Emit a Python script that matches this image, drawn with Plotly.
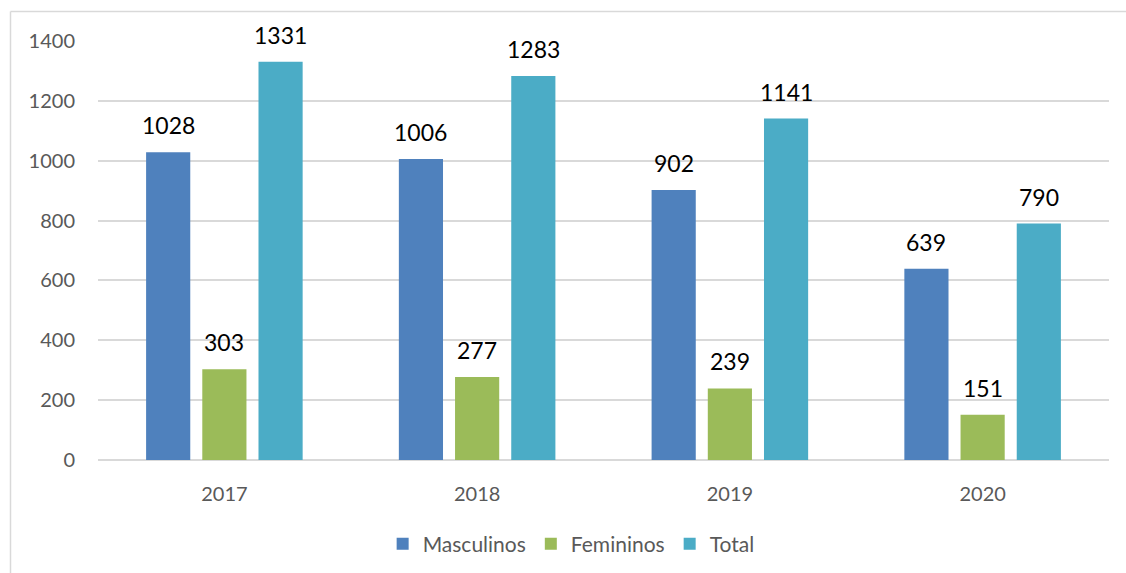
import plotly.graph_objects as go

years = ["2017", "2018", "2019", "2020"]
masculinos = [1028, 1006, 902, 639]
femininos = [303, 277, 239, 151]
total = [1331, 1283, 1141, 790]
y_ticks = [0, 200, 400, 600, 800, 1000, 1200, 1400]

series = [
    ("Masculinos", masculinos, "#4F81BD"),
    ("Femininos", femininos, "#9BBB59"),
    ("Total", total, "#4BACC6"),
]

FONT = "Lato, Carlito, Calibri, sans-serif"
bargap = 0.333
bargroupgap = 0.214

fig = go.Figure()
for name, vals, color in series:
    fig.add_trace(go.Bar(name=name, x=years, y=vals, marker=dict(color=color, line=dict(width=0))))

slot = (1 - bargap) / len(series)
annotations = []
for k, (name, vals, color) in enumerate(series):
    off = (k - 1) * slot
    for i, v in enumerate(vals):
        annotations.append(dict(
            x=i + off, y=v, xref="x", yref="y", text=str(v), showarrow=False,
            yanchor="bottom", yshift=11, font=dict(family=FONT, size=23, color="#000000")))

W, H = 1126, 573
L, R, T, B = 98, 17, 41, 113
pw, ph = W - L - R, H - T - B

bx0 = (10.5 - L) / pw
by1 = 1 + (T - 11.5) / ph
shapes = [
    dict(type="line", xref="paper", yref="paper", x0=bx0, x1=(W + 30 - L) / pw, y0=by1, y1=by1,
         line=dict(color="#D9D9D9", width=1.5), layer="below"),
    dict(type="line", xref="paper", yref="paper", x0=bx0, x1=bx0, y0=-(B + 30) / ph, y1=by1,
         line=dict(color="#D9D9D9", width=1.5), layer="below"),
]

fig.update_layout(
    width=W, height=H,
    margin=dict(l=L, r=R, t=T, b=B, pad=0, autoexpand=False),
    paper_bgcolor="white", plot_bgcolor="white",
    barmode="group", bargap=bargap, bargroupgap=bargroupgap,
    font=dict(family=FONT, color="#595959", size=20),
    annotations=annotations,
    shapes=shapes,
    showlegend=True,
    legend=dict(orientation="h", x=0.468, xanchor="center", y=-(544 - (H - B)) / ph, yanchor="middle",
                font=dict(family=FONT, size=21, color="#595959"), itemwidth=30,
                traceorder="normal"),
    xaxis=dict(type="category", showgrid=False, showline=False, zeroline=False,
               ticks="", ticklabelstandoff=20, tickfont=dict(size=20, color="#595959")),
    yaxis=dict(range=[0, 1400], tickvals=y_ticks, showgrid=True, gridcolor="#D9D9D9", gridwidth=1.5,
               zeroline=True, zerolinecolor="#D9D9D9", zerolinewidth=1.5, showline=False,
               ticks="", ticklabelstandoff=22, tickfont=dict(size=20, color="#595959")),
)

fig.write_html("out.html", config={"displayModeBar": False},
               post_script="document.body.style.margin='0';document.body.style.overflow='hidden';")
